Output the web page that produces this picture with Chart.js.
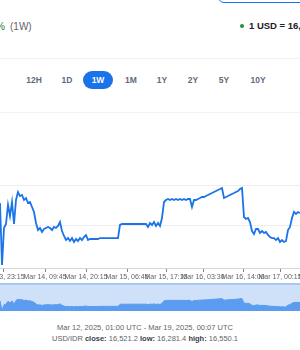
<!DOCTYPE html>
<html>
<head>
<meta charset="utf-8">
<script src="https://cdn.jsdelivr.net/npm/chart.js@4.4.1/dist/chart.umd.min.js"></script>
<style>
    body { margin: 0; width: 300px; height: 350px; overflow: hidden; background: #fff; font-family: "Liberation Sans", Arial, sans-serif; position: relative; }
    .abs { position: absolute; white-space: nowrap; }
    .sep { position: absolute; left: 0; width: 300px; height: 1px; background: #f1f2f3; }
    .btn { position: absolute; top: 71px; width: 30px; height: 18px; line-height: 18px; text-align: center; font-size: 8.5px; font-weight: bold; color: #5f6b7a; border-radius: 9px; }
    .btn.on { background: #1a73e8; color: #fff; }
    canvas { position: absolute; left: -60px; }
</style>
</head>
<body>
<div class="abs" style="left:218px; top:-20px; width:100px; height:21px; border:1px solid #1a73e8; border-radius:6px;"></div>
<div class="abs" style="right:295px; top:21px; line-height:12px; font-size:10px; color:#188038;">+0.64%</div>
<div class="abs" style="left:10px; top:21px; line-height:12px; font-size:10px; color:#5f6368;">(1W)</div>
<div class="abs" style="left:240px; top:24px; width:4px; height:4px; border-radius:2px; background:#1e8e3e;"></div>
<div class="abs" style="left:249px; top:20px; line-height:12px; font-size:9.5px; font-weight:bold; color:#202124;">1 USD = 16,521.2 IDR</div>
<div class="sep" style="top:58px;"></div>
<div id="ranges"></div>
<div class="sep" style="top:112px;"></div>
<canvas id="canvas-main" width="420" height="169" style="top:113px;"></canvas>
<div class="abs" style="left:0; top:283px; width:300px; height:26px; border-top:2px solid #a6c8f4; background:#cfe1f9;"></div>
<canvas id="canvas-nav" width="420" height="26" style="top:285px;"></canvas>
<div class="abs" style="left:-5px; width:300px; top:322px; line-height:11px; text-align:center; font-size:7.5px; color:#5f6368;">Mar 12, 2025, 01:00 UTC - Mar 19, 2025, 00:07 UTC</div>
<div class="abs" style="left:-5px; width:300px; top:333px; line-height:11px; text-align:center; font-size:7.5px; color:#5f6368;">USD/IDR <b style="color:#3c4043">close:</b> 16,521.2 <b style="color:#3c4043">low:</b> 16,281.4 <b style="color:#3c4043">high:</b> 16,550.1</div>

<script>
    // USD/IDR, one value per sample slot (visible part of the 1W view)
    let rates = [
        16390.1, 16281.4, 16346.2, 16353.2, 16386.6, 16367.2, 16391.8, 16353.2, 16395.3, 16409.4,
        16402.3, 16404.1, 16395.3, 16398.8, 16390.1, 16391.8, 16383.0, 16374.3, 16355.0, 16342.7,
        16346.2, 16339.2, 16344.4, 16346.2, 16348.0, 16346.2, 16342.7, 16348.0, 16346.2, 16349.7,
        16356.7, 16340.9, 16332.2, 16325.1, 16328.6, 16323.4, 16328.6, 16321.6, 16326.9, 16323.4,
        16328.6, 16325.1, 16330.4, 16333.9, 16325.1, 16326.9, 16326.9, 16326.9, 16326.9, 16326.9,
        16328.6, 16328.6, 16328.6, 16328.6, 16328.6, 16328.6, 16328.6, 16328.6, 16328.6, 16328.6,
        16351.5, 16353.2, 16353.2, 16353.2, 16353.2, 16353.2, 16353.2, 16353.2, 16353.2, 16353.2,
        16353.2, 16353.2, 16353.2, 16353.2, 16348.0, 16355.0, 16351.5, 16356.7, 16349.7, 16355.0,
        16349.7, 16363.7, 16391.8, 16395.3, 16397.1, 16395.3, 16397.1, 16395.3, 16397.1, 16395.3,
        16397.1, 16395.3, 16397.1, 16395.3, 16397.1, 16397.1, 16383.0, 16395.3, 16395.3, 16397.1,
        16398.8, 16400.6, 16400.6, 16402.3, 16404.1, 16405.9, 16407.6, 16409.4, 16411.1, 16412.9,
        16414.6, 16416.4, 16398.8, 16400.6, 16402.3, 16404.1, 16405.9, 16407.6, 16409.4, 16411.1,
        16414.6, 16416.4, 16365.5, 16362.0, 16363.7, 16356.7, 16340.9, 16335.7, 16344.4, 16344.4,
        16337.4, 16340.9, 16337.4, 16339.2, 16333.9, 16330.4, 16328.6, 16328.6, 16325.1, 16328.6,
        16321.6, 16325.1, 16321.6, 16323.4, 16342.7, 16348.0, 16363.7, 16374.3, 16370.8, 16374.3,
        16372.5
    ];
    let tickSlots = [1.5, 22.5, 43, 63.5, 83, 101.5, 121.5, 140, 160];
    let tickLabels = ['Mar 13, 23:15', 'Mar 14, 09:45', 'Mar 14, 20:15', 'Mar 15, 06:45', 'Mar 15, 17:15',
        'Mar 16, 03:30', 'Mar 16, 14:00', 'Mar 17, 00:15', 'Mar 17, 10:45'];
    let gridRates = [16350, 16420];
    let rangeButtons = ['12H', '1D', '1W', '1M', '1Y', '2Y', '5Y', '10Y'];
    let buttonCenters = [34, 67, 98, 131, 162, 193, 224, 258];

    let yMin = 16276, yMax = 16548;
    let xMin = -30, xMax = 180;

    let box = document.getElementById('ranges');
    rangeButtons.forEach(function (name, i) {
        let b = document.createElement('div');
        b.className = 'btn' + (name === '1W' ? ' on' : '');
        b.style.left = (buttonCenters[i] - 15) + 'px';
        b.textContent = name;
        box.appendChild(b);
    });

    let points = rates.map(function (r, i) { return { x: i, y: r }; });

    new Chart(document.getElementById('canvas-main').getContext('2d'), {
        type: 'line',
        data: {
            datasets: [{
                data: points,
                borderColor: '#1a73e8',
                borderWidth: 1.8,
                pointRadius: 0,
                fill: false,
                tension: 0
            }]
        },
        options: {
            responsive: false,
            animation: false,
            layout: { padding: 0 },
            plugins: { legend: { display: false }, tooltip: { enabled: false } },
            scales: {
                x: {
                    type: 'linear', min: xMin, max: xMax,
                    afterBuildTicks: function (s) { s.ticks = tickSlots.map(function (v) { return { value: v }; }); },
                    afterFit: function (s) { s.height = 14; },
                    grid: { drawOnChartArea: false, tickLength: 4, tickColor: '#80868b', lineWidth: 1 },
                    border: { color: '#d5d7da' },
                    ticks: {
                        autoSkip: false, maxRotation: 0, padding: 1,
                        color: '#5f6368', font: { size: 7, family: '"Liberation Sans", Arial' },
                        callback: function (v) { return tickLabels[tickSlots.indexOf(v)]; }
                    }
                },
                y: {
                    position: 'right', min: yMin, max: yMax,
                    afterBuildTicks: function (s) { s.ticks = gridRates.map(function (v) { return { value: v }; }); },
                    afterFit: function (s) { s.width = 0; },
                    grid: { color: '#eceef0', drawTicks: false },
                    border: { display: false },
                    ticks: { display: false }
                }
            }
        }
    });

    new Chart(document.getElementById('canvas-nav').getContext('2d'), {
        type: 'line',
        data: {
            datasets: [{
                data: points,
                borderColor: '#5b9cf0',
                backgroundColor: '#5b9cf0',
                borderWidth: 1,
                pointRadius: 0,
                fill: 'start',
                tension: 0
            }]
        },
        options: {
            responsive: false,
            animation: false,
            layout: { padding: { top: 2 } },
            plugins: { legend: { display: false }, tooltip: { enabled: false } },
            scales: {
                x: { type: 'linear', min: xMin, max: xMax, display: false },
                y: { min: yMin, max: yMax, display: false }
            }
        }
    });
</script>
</body>
</html>
